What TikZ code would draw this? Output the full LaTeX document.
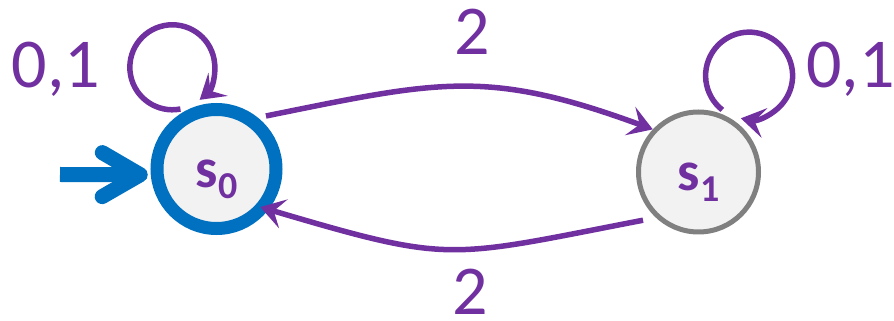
\documentclass[tikz,border=0pt]{standalone}
\usepackage{fontspec}
\setmainfont{Carlito}
\usetikzlibrary{arrows.meta}
\definecolor{stpurple}{HTML}{7030A0}
\definecolor{stblue}{HTML}{0070C0}
\definecolor{stgray}{HTML}{808080}
\definecolor{stfill}{HTML}{F2F2F2}
\begin{document}
\begin{tikzpicture}[x=1pt,y=1pt,
  state/.style={circle,fill=stfill,inner sep=0pt,text=stpurple,
    font=\bfseries\fontsize{56}{56}\selectfont,text height=38pt,text depth=0pt},
  edge/.style={draw=stpurple,line width=5.5pt,-{Stealth[length=24pt,width=30pt,inset=10pt]}},
  initedge/.style={draw=stblue,line width=15pt,
    -{Straight Barb[length=38pt,width=44pt,line cap=round,line join=round]}},
  lbl/.style={text=stpurple,font=\fontsize{70}{70}\selectfont,inner sep=0pt,anchor=base}]
\useasboundingbox (0,0) rectangle (894,321);
\node[state,draw=stblue,line width=13pt,minimum size=119pt] (s0) at (216.5,152)
  {s\raisebox{-11pt}{\fontsize{38}{38}\selectfont 0}};
\node[state,draw=stgray,line width=5pt,minimum size=120pt] (s1) at (698.5,149)
  {s\raisebox{-11pt}{\fontsize{38}{38}\selectfont 1}};
% self loops
\draw[edge] ([shift={(121:4pt)}]s0.121) arc[start angle=-79,delta angle=-331,radius=42.5];
\draw[edge] ([shift={(69:4pt)}]s1.69) arc[start angle=-128,delta angle=-333,radius=43.5];
% transitions
\draw[edge] ([shift={(47:6.5pt)}]s0.47) .. controls +(173,35) and +(-166,61) .. (s1.137);
\draw[edge] ([shift={(221:11pt)}]s1.221) .. controls +(-197,-38) and +(193,-57) .. ([shift={(139:8pt)}]s0.319);
% initial arrow
\coordinate (init) at (60,146.5);
\draw[initedge] (init) -- ([xshift=-3pt]s0.185);
% labels
\node[lbl] (l0) at (56,233) {0,1};
\node[lbl] (l1) at (850.5,233) {0,1};
\node[lbl] (l2) at (472.5,266) {2};
\node[lbl] (l3) at (470,6) {2};
\end{tikzpicture}
\end{document}
